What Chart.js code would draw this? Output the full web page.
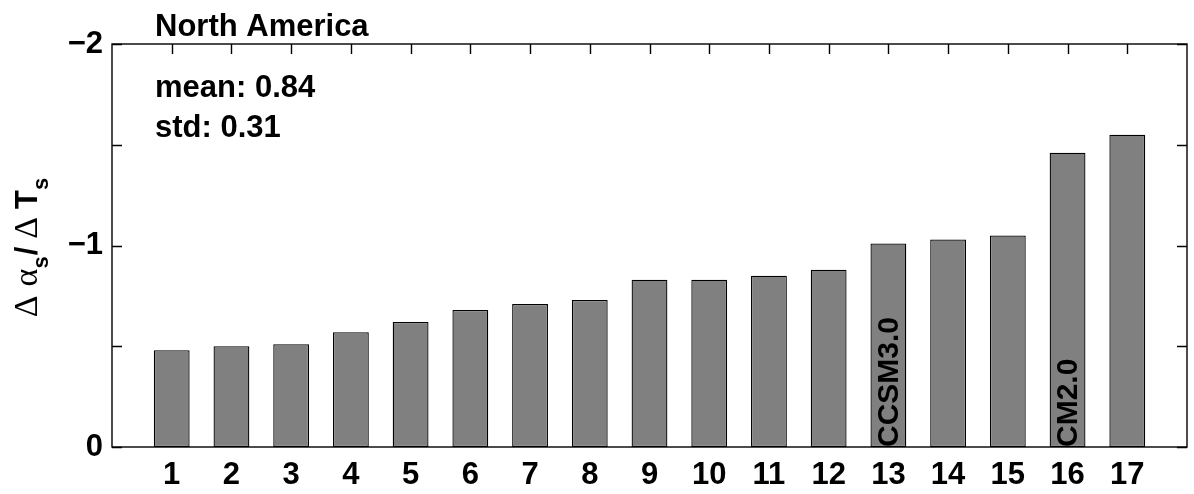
<!DOCTYPE html>
<html>
<head>
<meta charset="utf-8">
<script src="https://cdn.jsdelivr.net/npm/chart.js@4/dist/chart.umd.min.js"></script>
<style>
  html, body { margin: 0; padding: 0; background: #ffffff; }
  #wrap { width: 1194px; height: 494px; }
</style>
</head>
<body>
<div id="wrap"><canvas id="c" width="1194" height="494"></canvas></div>
<script>
// Model index along the x axis
const modelNumbers = [1, 2, 3, 4, 5, 6, 7, 8, 9, 10, 11, 12, 13, 14, 15, 16, 17];
// Surface albedo feedback per model (d alpha_s / d T_s), sorted by magnitude
const albedoFeedback = [-0.48, -0.50, -0.51, -0.57, -0.62, -0.68, -0.71, -0.73,
                        -0.83, -0.83, -0.85, -0.88, -1.01, -1.03, -1.05, -1.46, -1.55];
// Y axis tick positions and which of them carry a label
const yTickValues = [-2, -1.5, -1, -0.5, 0];
const yLabeledTicks = [-2, -1, 0];
// Texts
const regionTitle = 'North America';
const statLines = ['mean: 0.84', 'std: 0.31'];
const namedModels = ['CCSM3.0', 'CM2.0'];
const namedModelPositions = [13, 16];

const SANS = '"Liberation Sans", Arial, Helvetica, sans-serif';
const SERIF = '"Liberation Serif", "Times New Roman", serif';
const FONT_PX = 31;

const frameAndText = {
  id: 'frameAndText',
  afterDatasetsDraw(chart) {
    const { ctx, chartArea: a, scales: { x, y } } = chart;
    ctx.save();
    ctx.strokeStyle = '#000';
    ctx.lineWidth = 1.4;
    // box
    ctx.strokeRect(a.left, a.top, a.right - a.left, a.bottom - a.top);
    // inward ticks
    const tl = 10;
    ctx.beginPath();
    modelNumbers.forEach(v => {
      const px = Math.round(x.getPixelForValue(v)) + 0.5;
      ctx.moveTo(px, a.top);
      ctx.lineTo(px, a.top + tl);
    });
    yTickValues.forEach(v => {
      const py = Math.round(y.getPixelForValue(v)) + 0.5;
      ctx.moveTo(a.left, py);
      ctx.lineTo(a.left + tl, py);
      ctx.moveTo(a.right, py);
      ctx.lineTo(a.right - tl, py);
    });
    ctx.stroke();
    ctx.restore();
  },
  afterDraw(chart) {
    const { ctx, chartArea: a, scales: { x, y } } = chart;
    ctx.save();
    ctx.fillStyle = '#000';
    ctx.textAlign = 'left';
    ctx.textBaseline = 'alphabetic';
    ctx.font = `bold ${FONT_PX}px ${SANS}`;
    ctx.fillText(regionTitle, 155, 36);
    statLines.forEach((s, i) => ctx.fillText(s, 155, 97 + i * 40));

    // model names written up the bars
    ctx.font = `bold 30px ${SANS}`;
    namedModels.forEach((name, i) => {
      const px = x.getPixelForValue(namedModelPositions[i]);
      const py = y.getPixelForValue(0);
      ctx.save();
      ctx.translate(px + 1, py);
      ctx.rotate(-Math.PI / 2);
      ctx.textBaseline = 'middle';
      ctx.fillText(name, 0, 0);
      ctx.restore();
    });

    // y axis title: Δα_s / ΔT_s
    const main = `bold ${FONT_PX}px ${SANS}`;
    const greek = `34px ${SERIF}`;
    const sub = `bold 22px ${SANS}`;
    const pieces = [
      { t: '\u0394', f: greek },
      { gap: 9 },
      { t: '\u03B1', f: greek },
      { t: 's', f: sub, sub: true },
      { gap: 1 },
      { t: '/', f: main },
      { gap: 8 },
      { t: '\u0394', f: greek },
      { gap: 8 },
      { t: 'T', f: main },
      { t: 's', f: sub, sub: true }
    ];
    let total = 0;
    pieces.forEach(p => {
      if (p.gap) { total += p.gap; return; }
      ctx.font = p.f;
      p.w = ctx.measureText(p.t).width;
      total += p.w;
    });
    const cy = (a.top + a.bottom) / 2;
    ctx.translate(37, cy + total / 2 + 2);
    ctx.rotate(-Math.PI / 2);
    ctx.textBaseline = 'alphabetic';
    let u = 0;
    pieces.forEach(p => {
      if (p.gap) { u += p.gap; return; }
      ctx.font = p.f;
      ctx.fillText(p.t, u, p.sub ? 11 : 0);
      u += p.w;
    });
    ctx.restore();
  }
};

new Chart(document.getElementById('c'), {
  type: 'bar',
  data: {
    datasets: [{
      data: modelNumbers.map((m, i) => ({ x: m, y: albedoFeedback[i] })),
      backgroundColor: '#808080',
      borderColor: '#000000',
      borderWidth: 1.3,
      borderSkipped: false,
      barPercentage: 0.6,
      categoryPercentage: 1
    }]
  },
  options: {
    responsive: false,
    animation: false,
    devicePixelRatio: 1,
    layout: { padding: { top: 44, right: 7, left: 0, bottom: 0 } },
    plugins: { legend: { display: false }, tooltip: { enabled: false } },
    scales: {
      x: {
        type: 'linear',
        offset: false,
        min: 0,
        max: 18,
        afterBuildTicks: s => { s.ticks = modelNumbers.map(v => ({ value: v })); },
        afterFit: s => { s.height = 47; },
        grid: { display: false, drawTicks: false, offset: false },
        border: { display: false },
        ticks: {
          autoSkip: false,
          maxRotation: 0,
          padding: 10,
          color: '#000',
          font: { family: SANS, size: FONT_PX, weight: 'bold' },
          callback: v => String(v)
        }
      },
      y: {
        reverse: true,
        min: -2,
        max: 0,
        afterBuildTicks: s => { s.ticks = yTickValues.map(v => ({ value: v })); },
        afterFit: s => { s.width = 112; },
        grid: { display: false, drawTicks: false },
        border: { display: false },
        ticks: {
          padding: 9,
          color: '#000',
          font: { family: SANS, size: FONT_PX, weight: 'bold' },
          callback: v => yLabeledTicks.includes(v) ? (v < 0 ? '\u2212' + Math.abs(v) : String(v)) : ''
        }
      }
    }
  },
  plugins: [frameAndText]
});
</script>
</body>
</html>
